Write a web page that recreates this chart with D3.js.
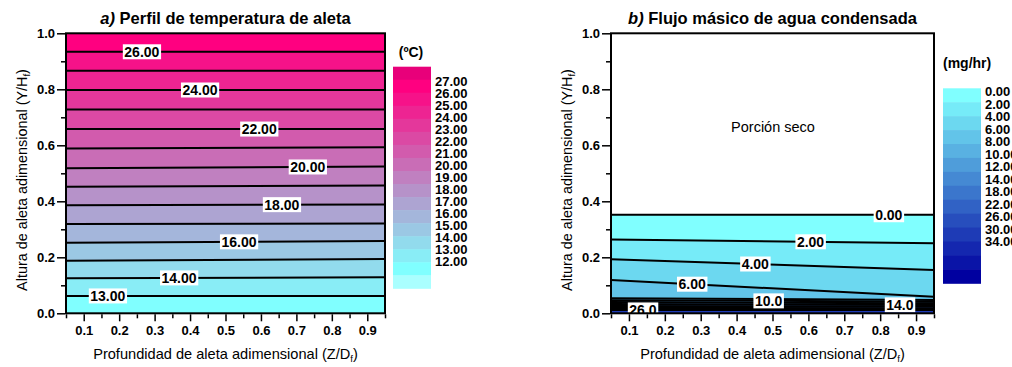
<!DOCTYPE html>
<html><head><meta charset="utf-8">
<script src="https://cdn.jsdelivr.net/npm/d3@7/dist/d3.min.js"></script>
<style>
body{margin:0;background:#fff;}
svg{display:block;font-family:"Liberation Sans",Arial,sans-serif;}
</style></head>
<body><svg id="c" width="1012" height="367"></svg>
<script>
// ---------- DATA ----------
// stations along the fin depth (Z/Df) where contour heights were read
const stations = [0.05, 0.95];

// a) temperature contour levels (°C) and their heights (Y/Hf) at each station
const tempLevels   = [13, 14, 15, 16, 17, 18, 19, 20, 21, 22, 23, 24, 25, 26];
const tempYLeft    = [0.062, 0.125, 0.188, 0.252, 0.319, 0.386, 0.452, 0.518, 0.589, 0.658, 0.7275, 0.7975, 0.866, 0.934];
const tempYRight   = [0.062, 0.129, 0.194, 0.258, 0.321, 0.389, 0.456, 0.524, 0.593, 0.658, 0.7275, 0.7975, 0.866, 0.934];
const tempLabelLevels = [26, 24, 22, 20, 18, 16, 14, 13];
const tempLabelText   = ["26.00", "24.00", "22.00", "20.00", "18.00", "16.00", "14.00", "13.00"];
const tempLabelZ      = [0.264, 0.428, 0.595, 0.732, 0.659, 0.538, 0.369, 0.168];
const tempBarTicks    = ["27.00","26.00","25.00","24.00","23.00","22.00","21.00","20.00","19.00","18.00","17.00","16.00","15.00","14.00","13.00","12.00"];

// b) condensed water mass-flow contour levels (mg/hr) and heights
const fluxLevels  = [0, 2, 4, 6, 8, 10, 12, 14, 18, 22, 26];
const fluxYLeft   = [0.352, 0.264, 0.193, 0.119, 0.054, 0.047, 0.040, 0.033, 0.026, 0.019, 0.012];
const fluxYRight  = [0.352, 0.250, 0.155, 0.059, 0.0475, 0.0416, 0.0357, 0.0298, 0.0239, 0.018, 0.012];
const fluxLabelLevels = [0, 2, 4, 6, 10, 14, 26];
const fluxLabelText   = ["0.00", "2.00", "4.00", "6.00", "10.0", "14.0", "26.0"];
const fluxLabelZ      = [0.824, 0.606, 0.452, 0.276, 0.489, 0.855, 0.139];
const fluxBarTicks    = ["0.00","2.00","4.00","6.00","8.00","10.00","12.00","14.00","18.00","22.00","26.00","30.00","34.00"];

const xTicks = [0.1, 0.2, 0.3, 0.4, 0.5, 0.6, 0.7, 0.8, 0.9];
const xMinor = [0.05, 0.15, 0.25, 0.35, 0.45, 0.55, 0.65, 0.75, 0.85, 0.95];
const yTicks = [0, 0.2, 0.4, 0.6, 0.8, 1.0];
const yMinor = [0.1, 0.3, 0.5, 0.7, 0.9];

// ---------- DRAW ----------
const svg = d3.select("#c");
const F = '"Liberation Sans",Arial,sans-serif';

// colours
const tempInner = d3.range(15).map(i => d3.interpolateRgb("rgb(128,255,255)", "rgb(255,0,128)")(i / 14));
const tempColors = ["rgb(170,255,255)"].concat(tempInner, ["rgb(232,0,122)"]); // 17 bands bottom->top
const fluxColors = d3.range(14).map(i => d3.interpolateRgb("rgb(128,255,255)", "rgb(0,0,160)")(i / 13)); // top->bottom

function panel(opt) {
  const g = svg.append("g");
  const x = d3.scaleLinear().domain([0.05, 0.95]).range([opt.x0, opt.x1]);
  const y = d3.scaleLinear().domain([0, 1]).range([313.3, 33.3]);
  const clipId = "clip" + opt.id;
  svg.append("clipPath").attr("id", clipId).append("rect")
    .attr("x", opt.x0).attr("y", 33.3).attr("width", opt.x1 - opt.x0).attr("height", 280);
  const pg = g.append("g").attr("clip-path", `url(#${clipId})`);

  const lines = opt.levels.map((lv, i) => stations.map((z, k) => ({z, v: k === 0 ? opt.yL[i] : opt.yR[i]})));
  const area = d3.area().x(d => x(d.z)).y0(d => y(d.lo)).y1(d => y(d.hi));
  // bands
  opt.bands.forEach(b => {
    const pts = stations.map((z, k) => ({
      z,
      lo: b.lo === null ? 0 : (k === 0 ? opt.yL[b.lo] : opt.yR[b.lo]),
      hi: b.hi === null ? 1 : (k === 0 ? opt.yL[b.hi] : opt.yR[b.hi])
    }));
    pg.append("path").datum(pts).attr("d", area).attr("fill", b.color).attr("stroke", b.color).attr("stroke-width", 0.5);
  });
  // contour lines
  const line = d3.line().x(d => x(d.z)).y(d => y(d.v));
  lines.forEach(l => pg.append("path").datum(l).attr("d", line).attr("fill", "none").attr("stroke", "#000").attr("stroke-width", 2));
  // labels
  opt.labLevels.forEach((lv, j) => {
    const i = opt.levels.indexOf(lv);
    const z = opt.labZ[j];
    const t = (z - 0.05) / 0.9;
    const v = opt.yL[i] + (opt.yR[i] - opt.yL[i]) * t;
    const cx = x(z), cy = y(v);
    const txt = pg.append("text").attr("x", cx).attr("y", cy + 5).attr("text-anchor", "middle")
      .attr("font-size", 14).attr("font-weight", "bold").attr("font-family", F).text(opt.labText[j]);
    const bb = txt.node().getBBox();
    pg.insert("rect", () => txt.node()).attr("x", bb.x - 1.5).attr("y", cy - 7.5).attr("width", bb.width + 3).attr("height", 15).attr("fill", "#fff");
  });
  // frame
  g.append("rect").attr("x", opt.x0).attr("y", 33.3).attr("width", opt.x1 - opt.x0).attr("height", 280)
    .attr("fill", "none").attr("stroke", "#000").attr("stroke-width", 2);
  // axes
  const ax = g.append("g").attr("transform", "translate(0,314.3)")
    .call(d3.axisBottom(x).tickValues(xTicks).tickSize(7).tickPadding(4).tickFormat(d3.format(".1f")));
  const axm = g.append("g").attr("transform", "translate(0,314.3)")
    .call(d3.axisBottom(x).tickValues(xMinor).tickSize(4).tickFormat(""));
  const ay = g.append("g").attr("transform", `translate(${opt.x0 - 1},0)`)
    .call(d3.axisLeft(y).tickValues(yTicks).tickSize(8).tickPadding(2).tickFormat(d3.format(".1f")));
  const aym = g.append("g").attr("transform", `translate(${opt.x0 - 1},0)`)
    .call(d3.axisLeft(y).tickValues(yMinor).tickSize(4).tickFormat(""));
  [ax, axm, ay, aym].forEach(a => {
    a.select(".domain").remove();
    a.selectAll("line").attr("stroke", "#000").attr("stroke-width", 1.5);
    a.selectAll("text").attr("font-size", 13).attr("font-weight", "bold").attr("font-family", F).attr("fill", "#000");
  });
  // titles
  const tt = g.append("text").attr("x", (opt.x0 + opt.x1) / 2).attr("y", 24).attr("text-anchor", "middle")
    .attr("font-size", 16.5).attr("font-family", F).attr("font-weight", "bold");
  tt.append("tspan").attr("font-style", "italic").text(opt.letter + ")");
  tt.append("tspan").text(" " + opt.title);
  const xt = g.append("text").attr("x", (opt.x0 + opt.x1) / 2).attr("y", 359).attr("text-anchor", "middle")
    .attr("font-size", 14.6).attr("font-family", F);
  xt.append("tspan").text("Profundidad de aleta adimensional (Z/D");
  xt.append("tspan").attr("font-size", 9.5).attr("dy", 3).text("f");
  xt.append("tspan").attr("dy", -3).text(")");
  const yt = g.append("text").attr("transform", `translate(${opt.yTitleX},180) rotate(-90)`).attr("text-anchor", "middle")
    .attr("font-size", 14.4).attr("font-family", F);
  yt.append("tspan").text("Altura de aleta adimensional (Y/H");
  yt.append("tspan").attr("font-size", 9.5).attr("dy", 3).text("f");
  yt.append("tspan").attr("dy", -3).text(")");
  return {g, x, y};
}

// ----- panel a -----
const aBands = [{lo: null, hi: 0, color: tempColors[1]}];
for (let i = 0; i < tempLevels.length - 1; i++) aBands.push({lo: i, hi: i + 1, color: tempColors[i + 2]});
aBands.push({lo: tempLevels.length - 1, hi: null, color: tempColors[15]});
panel({id: "a", x0: 66, x1: 385, levels: tempLevels, yL: tempYLeft, yR: tempYRight, bands: aBands,
  labLevels: tempLabelLevels, labText: tempLabelText, labZ: tempLabelZ,
  letter: "a", title: "Perfil de temperatura de aleta", yTitleX: 27});

// ----- panel b -----
const bBands = [];
for (let i = 0; i < fluxLevels.length - 1; i++) bBands.push({lo: i + 1, hi: i, color: fluxColors[i]});
bBands.push({lo: null, hi: fluxLevels.length - 1, color: fluxColors[fluxLevels.length - 1]});
const pb = panel({id: "b", x0: 611, x1: 934, levels: fluxLevels, yL: fluxYLeft, yR: fluxYRight, bands: bBands,
  labLevels: fluxLabelLevels, labText: fluxLabelText, labZ: fluxLabelZ,
  letter: "b", title: "Flujo másico de agua condensada", yTitleX: 572});
pb.g.append("text").attr("x", 773).attr("y", 132).attr("text-anchor", "middle").attr("font-size", 14.5)
  .attr("font-family", F).text("Porción seco");

// ----- colour bars -----
function colorbar(x0, top, bottom, colors, ticks, t0, t1, unit, unitX, unitY, anchor) {
  const n = colors.length;
  const band = d3.scaleBand().domain(d3.range(n)).range([top, bottom]).paddingInner(0);
  svg.append("g").selectAll("rect").data(colors).join("rect")
    .attr("x", x0).attr("width", 38).attr("y", (d, i) => band(i)).attr("height", band.bandwidth() + 0.5).attr("fill", d => d);
  const ts = d3.scalePoint().domain(ticks).range([t0, t1]);
  svg.append("g").selectAll("text").data(ticks).join("text")
    .attr("x", x0 + 42).attr("y", d => ts(d) + 4.5).attr("font-size", 13).attr("font-weight", "bold")
    .attr("font-family", F).text(d => d);
  svg.append("text").attr("x", unitX).attr("y", unitY).attr("text-anchor", anchor).attr("font-size", 14)
    .attr("font-weight", "bold").attr("font-family", F).text(unit);
}
colorbar(393, 66.7, 288.3, tempColors.slice().reverse(), tempBarTicks, 81, 261.7, "(\u00BAC)", 411, 57, "middle");
colorbar(943, 88.3, 283.3, fluxColors, fluxBarTicks, 91.7, 241.7, "(mg/hr)", 943, 68, "start");
</script></body></html>
